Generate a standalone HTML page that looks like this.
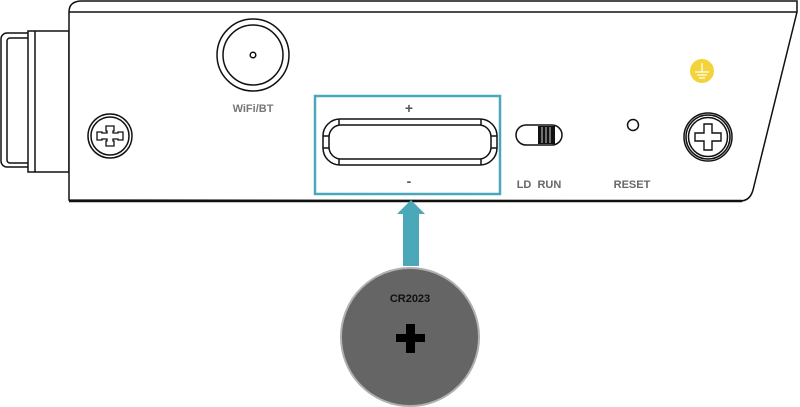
<!DOCTYPE html>
<html><head><meta charset="utf-8"><style>
html,body{margin:0;padding:0;background:#fff;width:800px;height:407px;overflow:hidden}
svg{display:block}
text{font-family:"Liberation Sans",sans-serif;font-weight:bold}
</style></head><body>
<svg width="800" height="407" viewBox="0 0 800 407" xmlns="http://www.w3.org/2000/svg">
<g fill="none" stroke="#111" stroke-width="1.5">
<!-- left connector -->
<rect x="1" y="33" width="34" height="134" rx="6" fill="#fff"/>
<rect x="7" y="38" width="26" height="125" rx="3"/>
<rect x="28" y="31" width="41" height="141" fill="#fff"/>
<line x1="35" y1="31" x2="35" y2="172"/>
<!-- body -->
<path d="M69 200 L69 12 Q69 1 82 1 L797 1 L797 12 L753 190 Q750 201 740 201 Z" fill="#fff"/>
<line x1="69" y1="12" x2="797" y2="12"/>
<line x1="69" y1="201" x2="742" y2="201" stroke-width="2.5"/>
<!-- wifi -->
<circle cx="253" cy="55" r="36"/>
<circle cx="253" cy="55" r="30"/>
<circle cx="253" cy="55" r="2.8"/>
<!-- left screw -->
<circle cx="110" cy="136" r="22"/>
<circle cx="110" cy="136" r="19"/>
<path d="M106 126h8v5h-1v2h5v-1h5v8h-5v-1h-5v2h1v5h-8v-5h1v-2h-5v1h-5v-8h5v1h5v-2h-1z" stroke-width="1.3"/>
<!-- right screw -->
<circle cx="708" cy="137" r="24"/>
<circle cx="708" cy="137" r="22"/>
<circle cx="708" cy="137" r="19.5"/>
<path d="M704 124h8v9h9v8h-9v9h-8v-9h-9v-8h9z" stroke-width="1.4"/>
<!-- slot -->
<rect x="323" y="119" width="174" height="46" rx="17"/>
<rect x="329" y="125" width="162" height="34" rx="12"/>
<line x1="339" y1="119" x2="339" y2="125"/><line x1="481" y1="119" x2="481" y2="125"/>
<line x1="339" y1="159" x2="339" y2="165"/><line x1="481" y1="159" x2="481" y2="165"/>
<line x1="323" y1="136" x2="329" y2="136"/><line x1="323" y1="148" x2="329" y2="148"/>
<line x1="491" y1="136" x2="497" y2="136"/><line x1="491" y1="148" x2="497" y2="148"/>
<!-- switch -->
<rect x="516" y="125" width="46" height="20" rx="10"/>
<rect x="538" y="126" width="17" height="18" fill="#111" stroke="none"/>
<g stroke="#fff" stroke-width="0.8"><line x1="542" y1="127" x2="542" y2="143"/><line x1="546" y1="127" x2="546" y2="143"/><line x1="550" y1="127" x2="550" y2="143"/></g>
<!-- reset -->
<circle cx="633" cy="125" r="5.5"/>
</g>
<!-- teal box -->
<rect x="315" y="96" width="185" height="98" fill="none" stroke="#4aa8b9" stroke-width="2.5"/>
<text x="409" y="113" font-size="14" fill="#555" text-anchor="middle">+</text>
<text x="409" y="186" font-size="14" fill="#555" text-anchor="middle">-</text>
<text x="253" y="112" font-size="11" fill="#777" text-anchor="middle">WiFi/BT</text>
<text x="539" y="188" font-size="11" fill="#666" text-anchor="middle">LD&#160;&#160;RUN</text>
<text x="632" y="188" font-size="11" fill="#666" text-anchor="middle">RESET</text>
<!-- ground -->
<circle cx="702" cy="71" r="12" fill="#f2d43a"/>
<g stroke="#fff" stroke-width="1.2"><line x1="702" y1="63" x2="702" y2="72"/><line x1="695" y1="72" x2="709" y2="72"/><line x1="697" y1="75" x2="707" y2="75"/><line x1="699" y1="78" x2="705" y2="78"/></g>
<!-- arrow -->
<path d="M403 266V214H397L411 200L425 214H419V266Z" fill="#4aa8b9"/>
<!-- battery -->
<circle cx="410" cy="337" r="69" fill="#656565" stroke="#b0b0b0" stroke-width="2"/>
<text x="410" y="302" font-size="11" fill="#111" text-anchor="middle">CR2023</text>
<rect x="396" y="334" width="29" height="8" fill="#000"/>
<rect x="406" y="324" width="9" height="29" fill="#000"/>
</svg>
</body></html>
